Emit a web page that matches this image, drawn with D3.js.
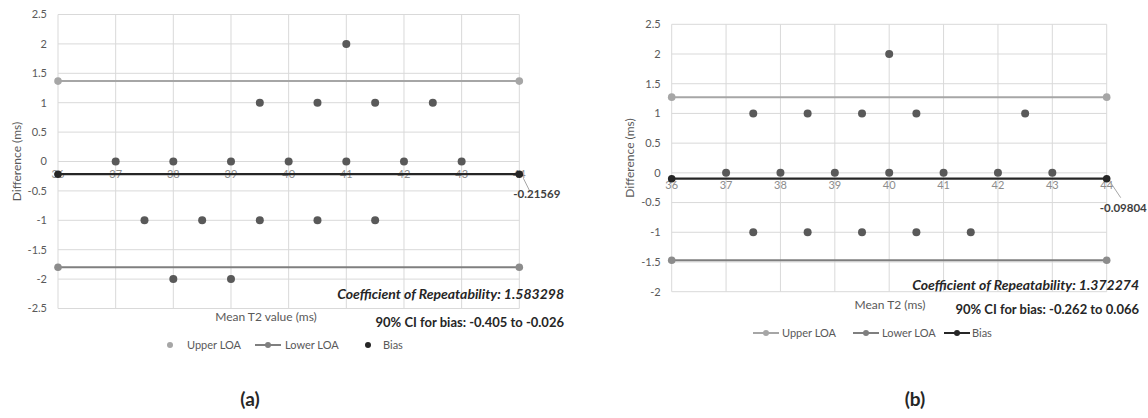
<!DOCTYPE html>
<html>
<head>
<script src="https://d3js.org/d3.v7.min.js"></script>
<style>
  body { margin: 0; background: #fff; }
  svg text { font-family: Lato, "Open Sans", sans-serif; }
  .tick-y { font-size: 11px; fill: #595959; }
  .tick-x { font-size: 11px; fill: #8c8c8c; }
  .axis-title { font-size: 12px; fill: #595959; }
  .legend { font-size: 11px; fill: #595959; }
  .stat { font-weight: bold; fill: #262626; }
  .panel-label { font-size: 19px; font-weight: bold; fill: #262626; }
</style>
</head>
<body>
<script>
// ---- panel (a) ----
var aPointsX = [41, 39.5, 40.5, 41.5, 42.5, 37, 38, 39, 40, 41, 42, 43, 37.5, 38.5, 39.5, 40.5, 41.5, 38, 39];
var aPointsY = [2, 1, 1, 1, 1, 0, 0, 0, 0, 0, 0, 0, -1, -1, -1, -1, -1, -2, -2];
var aBias = -0.21569;
var aCR = 1.583298;
var aCI = "90% CI for bias: -0.405 to -0.026";
var aXTitle = "Mean T2 value (ms)";
var aYTicks = [2.5, 2, 1.5, 1, 0.5, 0, -0.5, -1, -1.5, -2, -2.5];

// ---- panel (b) ----
var bPointsX = [40, 37.5, 38.5, 39.5, 40.5, 42.5, 37, 38, 39, 40, 41, 42, 43, 37.5, 38.5, 39.5, 40.5, 41.5];
var bPointsY = [2, 1, 1, 1, 1, 1, 0, 0, 0, 0, 0, 0, 0, -1, -1, -1, -1, -1];
var bBias = -0.09804;
var bCR = 1.372274;
var bCI = "90% CI for bias: -0.262 to 0.066";
var bXTitle = "Mean T2 (ms)";
var bYTicks = [2.5, 2, 1.5, 1, 0.5, 0, -0.5, -1, -1.5, -2];

var xTicks = [36, 37, 38, 39, 40, 41, 42, 43, 44];
var xEnds = [36, 44];

var colUpper = "#a6a6a6", colLower = "#7f7f7f", colBias = "#262626", colPt = "#595959", colGrid = "#d9d9d9";

var svg = d3.select("body").append("svg").attr("width", 1148).attr("height", 418);

function drawPanel(p) {
  var x = d3.scaleLinear().domain([36, 44]).range(p.xRange);
  var y = d3.scaleLinear().domain(p.yDomain).range(p.yRange);
  var g = svg.append("g");

  // grid
  g.selectAll(".gy").data(p.yTicks).enter().append("line")
    .attr("x1", x(36)).attr("x2", x(44))
    .attr("y1", d => y(d)).attr("y2", d => y(d))
    .attr("stroke", colGrid).attr("stroke-width", 1);
  g.selectAll(".gx").data(xTicks).enter().append("line")
    .attr("x1", d => x(d)).attr("x2", d => x(d))
    .attr("y1", y(p.yDomain[0])).attr("y2", y(p.yDomain[1]))
    .attr("stroke", colGrid).attr("stroke-width", 1);

  // y tick labels
  g.selectAll(".ty").data(p.yTicks).enter().append("text")
    .attr("class", "tick-y")
    .attr("x", x(36) - 11).attr("y", d => y(d)).attr("dy", "0.35em")
    .attr("text-anchor", "end").text(d => d);

  // x tick labels at y = 0
  g.selectAll(".tx").data(xTicks).enter().append("text")
    .attr("class", "tick-x")
    .attr("x", d => x(d)).attr("y", y(0) + 16)
    .attr("text-anchor", "middle").text(d => d);

  // y title
  g.append("text").attr("class", "axis-title")
    .attr("transform", "translate(" + p.yTitleX + "," + (y(p.yDomain[0]) + y(p.yDomain[1])) / 2 + ") rotate(-90)")
    .attr("text-anchor", "middle").attr("dy", "0.35em").text("Difference (ms)");

  // x title
  g.append("text").attr("class", "axis-title")
    .attr("x", p.xTitleX).attr("y", p.xTitleY).attr("dy", "0.35em")
    .attr("text-anchor", "middle").text(p.xTitle);

  // data points
  g.selectAll(".pt").data(p.px).enter().append("circle")
    .attr("cx", d => x(d)).attr("cy", (d, i) => y(p.py[i]))
    .attr("r", 4).attr("fill", colPt);

  var upper = p.bias + p.cr, lower = p.bias - p.cr;
  var lines = [
    { v: upper, c: colUpper, w: 2 },
    { v: lower, c: colLower, w: 2 },
    { v: p.bias, c: colBias, w: 2.2 }
  ];
  lines.forEach(function(l) {
    g.append("line").attr("x1", x(36)).attr("x2", x(44))
      .attr("y1", y(l.v)).attr("y2", y(l.v))
      .attr("stroke", l.c).attr("stroke-width", l.w);
    g.selectAll(null).data(xEnds).enter().append("circle")
      .attr("cx", d => x(d)).attr("cy", y(l.v)).attr("r", 3.8)
      .attr("fill", l.c === colLower ? "#8c8c8c" : l.c);
  });

  // bias data label with leader line
  var bx = x(44), by = y(p.bias);
  g.append("line").attr("x1", bx + 4).attr("y1", by + 4)
    .attr("x2", bx + p.leadDx).attr("y2", by + p.leadDy)
    .attr("stroke", "#a6a6a6").attr("stroke-width", 1);
  g.append("text").attr("class", "legend")
    .attr("x", bx + p.labDx).attr("y", by + p.labDy).attr("dy", "0.35em")
    .style("font-weight", "bold").style("font-size", "11.5px").style("fill", "#404040")
    .text(p.bias.toFixed(5).replace(/0+$/, ""));

  // statistics, right-aligned to a common edge
  g.append("text").attr("class", "stat").style("font-style", "italic").style("font-size", "14px")
    .attr("x", p.statEnd).attr("y", p.crY).attr("dy", "0.35em").attr("text-anchor", "end")
    .text("Coefficient of Repeatability: " + p.cr);
  g.append("text").attr("class", "stat").style("font-size", "13px")
    .attr("x", p.statEnd).attr("y", p.ciY).attr("dy", "0.35em").attr("text-anchor", "end")
    .text(p.ci);

  // legend
  p.legend.forEach(function(it) {
    if (it.line) {
      g.append("line").attr("x1", it.x - 13).attr("x2", it.x + 13)
        .attr("y1", p.legY).attr("y2", p.legY)
        .attr("stroke", it.c).attr("stroke-width", 2);
    }
    g.append("circle").attr("cx", it.x).attr("cy", p.legY).attr("r", 3).attr("fill", it.c);
    g.append("text").attr("class", "legend")
      .attr("x", it.tx).attr("y", p.legY).attr("dy", "0.35em").text(it.name);
  });

  // panel label
  g.append("text").attr("class", "panel-label")
    .attr("x", p.labelX).attr("y", 399).attr("dy", "0.35em")
    .attr("text-anchor", "middle").text(p.label);
}

drawPanel({
  px: aPointsX, py: aPointsY, bias: aBias, cr: aCR, ci: aCI, xTitle: aXTitle, yTicks: aYTicks,
  xRange: [58, 519.3], yDomain: [-2.5, 2.5], yRange: [308.5, 14.5],
  yTitleX: 17, xTitleX: 266, xTitleY: 317,
  leadDx: 11, leadDy: 18, labDx: -6, labDy: 20,
  statEnd: 564, crY: 294, ciY: 322,
  legY: 345,
  legend: [
    { name: "Upper LOA", c: colUpper, x: 170, tx: 187, line: false },
    { name: "Lower LOA", c: colLower, x: 268, tx: 285, line: true },
    { name: "Bias", c: colBias, x: 368, tx: 383, line: false }
  ],
  label: "(a)", labelX: 250
});

drawPanel({
  px: bPointsX, py: bPointsY, bias: bBias, cr: bCR, ci: bCI, xTitle: bXTitle, yTicks: bYTicks,
  xRange: [671.7, 1106.7], yDomain: [-2, 2.5], yRange: [291.7, 24.3],
  yTitleX: 630, xTitleX: 890, xTitleY: 305,
  leadDx: 14, leadDy: 19, labDx: -7, labDy: 29,
  statEnd: 1139, crY: 285, ciY: 309,
  legY: 333,
  legend: [
    { name: "Upper LOA", c: colUpper, x: 766, tx: 782, line: true },
    { name: "Lower LOA", c: colLower, x: 866, tx: 882, line: true },
    { name: "Bias", c: colBias, x: 957, tx: 972, line: true }
  ],
  label: "(b)", labelX: 915
});
</script>
</body>
</html>
